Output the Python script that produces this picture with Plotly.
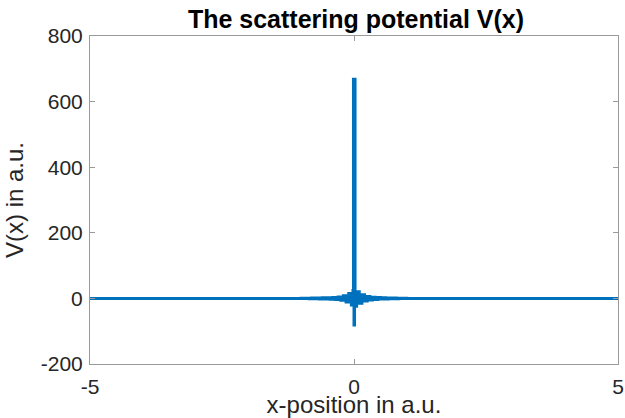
import plotly.graph_objects as go

x_pos = [-5.0, -1.2,
         -1.00, -0.95, -0.90, -0.85, -0.80, -0.75, -0.70, -0.65, -0.60, -0.55,
         -0.50, -0.45, -0.40, -0.35, -0.30, -0.25, -0.20, -0.15, -0.10, -0.05,
         -0.02, -0.01, 0.00, 0.01, 0.02,
         0.05, 0.10, 0.15, 0.20, 0.25, 0.30, 0.35, 0.40, 0.45, 0.50,
         0.55, 0.60, 0.65, 0.70, 0.75, 0.80, 0.85, 0.90, 0.95, 1.00,
         1.2, 5.0]
v_vals = [0.0, 0.0,
          0.3, -0.5, 0.6, -0.8, 1.0, -1.2, 1.4, -1.6, 1.8, -2.0,
          2.2, -2.6, 3.0, -3.6, 4.5, -6.0, 8.0, -11.0, 15.0, -20.0,
          24.0, 668.0, -81.0, 668.0, -24.0,
          20.0, -15.0, 11.0, -8.0, 6.0, -4.5, 3.6, -3.0, 2.6, -2.2,
          2.0, -1.8, 1.6, -1.4, 1.2, -1.0, 0.8, -0.6, 0.5, -0.3,
          0.0, 0.0]

x_ticks = [-5, 0, 5]
x_tick_text = ["-5", "0", "5"]
y_ticks = [-200, 0, 200, 400, 600, 800]
y_tick_text = ["-200", "0", "200", "400", "600", "800"]

fig = go.Figure()
fig.add_trace(go.Scatter(
    x=x_pos, y=v_vals, mode="lines",
    line=dict(color="#0072BD", width=3, shape="hv"),
    showlegend=False, hoverinfo="skip",
))

font_family = "Liberation Sans, Arial, Helvetica, sans-serif"
axis_common = dict(
    showgrid=False, zeroline=False, showline=True, mirror="ticks",
    linecolor="#9a9a9a", linewidth=1,
    ticks="inside", ticklen=5, tickcolor="#9a9a9a",
    tickfont=dict(family=font_family, size=21, color="#262626"),
    automargin=False,
)

fig.update_layout(
    width=625, height=418,
    margin=dict(l=90, r=7, t=36, b=54),
    paper_bgcolor="white", plot_bgcolor="white",
    title=dict(
        text="<b>The scattering potential V(x)</b>",
        x=356 / 625, xanchor="center",
        y=1 - 19 / 418, yanchor="middle",
        font=dict(family=font_family, size=25, color="black"),
    ),
    xaxis=dict(
        range=[-5, 5], tickvals=x_ticks, ticktext=x_tick_text,
        ticklabelstandoff=4,
        title=dict(text="x-position in a.u.", standoff=0,
                   font=dict(family=font_family, size=24, color="#262626")),
        **axis_common,
    ),
    yaxis=dict(
        range=[-200, 800], tickvals=y_ticks, ticktext=y_tick_text,
        ticklabelstandoff=2,
        title=dict(text="V(x) in a.u.", standoff=10,
                   font=dict(family=font_family, size=24, color="#262626")),
        **axis_common,
    ),
)

fig.write_html(
    "out.html",
    config={"displayModeBar": False},
    post_script="document.body.style.margin='0';document.body.style.overflow='hidden';",
)
